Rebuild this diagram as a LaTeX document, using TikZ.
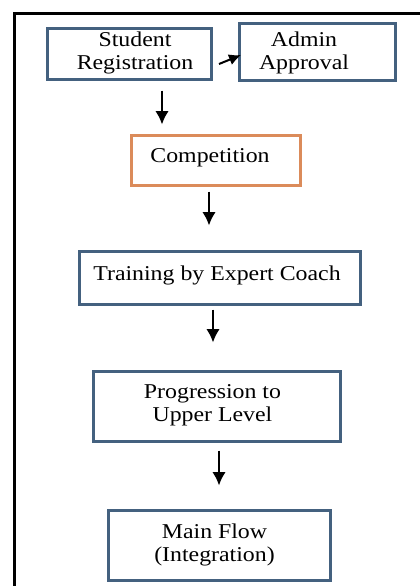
\documentclass[tikz,border=0pt]{standalone}
\usepackage{fontspec}
\setmainfont{Liberation Serif}[FakeStretch=1.13]
\usetikzlibrary{calc,arrows.meta}
\definecolor{boxblue}{HTML}{44617F}
\definecolor{boxorange}{HTML}{DB8B5A}
\tikzset{
  flowbox/.style={draw=boxblue, line width=3*0.3mm, inner sep=0pt},
  flowtxt/.style={align=center, font=\fontsize{18}{19.6}\selectfont},
  arr/.style={-{Latex[length=4mm,width=4mm]}, line width=0.6mm}
}
\begin{document}
\begin{tikzpicture}[x=0.03cm, y=-0.03cm]
				\useasboundingbox (0,0) rectangle (420,586);
				% frame
				\draw[line width=0.9mm] (420,13) -- (14,13) -- (14,586);

				% boxes
				\node[flowbox, minimum width=164*0.3mm, minimum height=51*0.3mm] (sreg) at (129.5,54) {};
				\node[flowbox, minimum width=156*0.3mm, minimum height=57*0.3mm] (admin) at (317.5,52) {};
				\node[flowbox, draw=boxorange, minimum width=169*0.3mm, minimum height=50*0.3mm] (comp) at (216,160.5) {};
				\node[flowbox, minimum width=281*0.3mm, minimum height=53*0.3mm] (train) at (220,278) {};
				\node[flowbox, minimum width=247*0.3mm, minimum height=70*0.3mm] (prog) at (217,406.5) {};
				\node[flowbox, minimum width=222*0.3mm, minimum height=70*0.3mm] (main) at (219.5,545.5) {};

				% texts
				\node[flowtxt] (sregtxt) at (135,53) {Student\\Registration};
				\node[flowtxt] (admintxt) at (304,53) {Admin\\Approval};
				\node[flowtxt] (comptxt) at (210,158) {Competition};
				\node[flowtxt] (traintxt) at (217,275) {Training by Expert Coach};
				\node[flowtxt] (progtxt) at (212.5,405) {Progression to\\Upper Level};
				\node[flowtxt] (maintxt) at (214.5,545) {Main Flow\\(Integration)};

				% arrows
				\draw[arr, -{Latex[length=3.6mm,width=3.4mm]}] ($(sreg.east)+(6,10)$) -- ($(admin.west)+(3,3)$);
				\draw[arr] ($(sreg.south)+(32.5,9.5)$) -- ($(comp.north)+(-54,-9.5)$);
				\draw[arr] ($(comp.south)+(-7,4.5)$) -- ($(train.north)+(-11,-24.5)$);
				\draw[arr] ($(train.south)+(-7,3.5)$) -- ($(prog.north)+(-4,-27.5)$);
				\draw[arr] ($(prog.south)+(2,7.5)$) -- ($(main.north)+(-0.5,-23.5)$);
			\end{tikzpicture}
\end{document}
